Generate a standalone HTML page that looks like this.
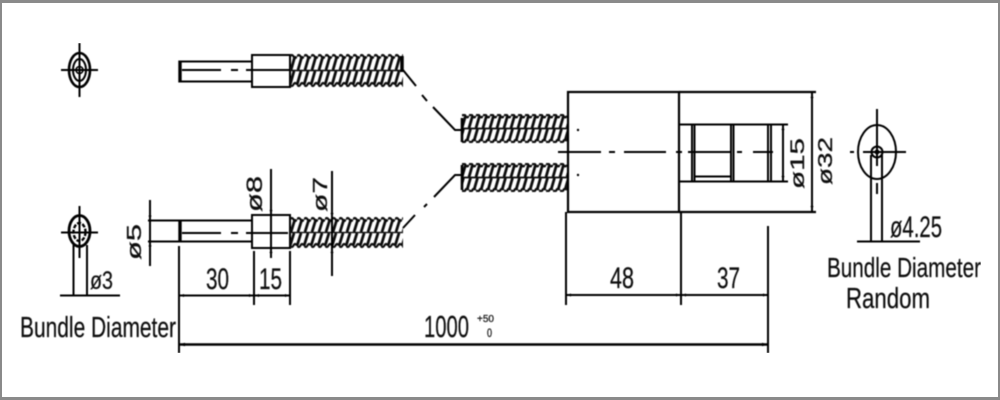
<!DOCTYPE html>
<html><head><meta charset="utf-8"><style>
html,body{margin:0;padding:0;background:#fff}
svg{display:block}
text{font-family:"Liberation Sans",sans-serif;fill:#111;stroke:#111;stroke-width:.25}
</style></head><body>
<svg width="1000" height="400" viewBox="0 0 1000 400" xmlns="http://www.w3.org/2000/svg">
<defs>
<filter id="b" x="0" y="0" width="100%" height="100%"><feGaussianBlur stdDeviation="0.5"/></filter>
<pattern id="sp1" patternUnits="userSpaceOnUse" x="290" y="54" width="7" height="33">
<path d="M0 2.500Q1.750 -0.500 3.500 2.500T7 2.500M0 30.500Q1.750 33.500 3.500 30.500T7 30.500" fill="none" stroke="#111" stroke-width="2.200"/>
<path d="M1 16L5 2M8 16L12 2M-6 16L-2 2M0 31L4 17M7 31L11 17M-7 31L-3 17" stroke="#111" stroke-width="2.800"/>
<path d="M0 16.500H7" stroke="#111" stroke-width="1.600"/>
</pattern>
<pattern id="sp2" patternUnits="userSpaceOnUse" x="462" y="114" width="7" height="29">
<path d="M0 2Q1.750 -0.600 3.500 2T7 2M0 27Q1.750 29.600 3.500 27T7 27" fill="none" stroke="#111" stroke-width="2.400"/>
<path d="M0 14L3.500 2M7 14L10.500 2M-7 14L-3.500 2M-2 27L1.500 15M5 27L8.500 15M12 27L15.500 15" stroke="#111" stroke-width="2.800"/>
<path d="M0 14.500H7" stroke="#111" stroke-width="1.800"/>
</pattern>
<pattern id="sp3" patternUnits="userSpaceOnUse" x="462" y="163" width="7" height="29">
<path d="M0 2Q1.750 -0.600 3.500 2T7 2M0 27Q1.750 29.600 3.500 27T7 27" fill="none" stroke="#111" stroke-width="2.400"/>
<path d="M0 14L3.500 2M7 14L10.500 2M-7 14L-3.500 2M-2 27L1.500 15M5 27L8.500 15M12 27L15.500 15" stroke="#111" stroke-width="2.800"/>
<path d="M0 14.500H7" stroke="#111" stroke-width="1.800"/>
</pattern>
<pattern id="sp4" patternUnits="userSpaceOnUse" x="290" y="217" width="7" height="31">
<path d="M0 2.500Q1.750 -0.500 3.500 2.500T7 2.500M0 28.500Q1.750 31.500 3.500 28.500T7 28.500" fill="none" stroke="#111" stroke-width="2.200"/>
<path d="M1 15L5 2M8 15L12 2M-6 15L-2 2M0 29L4 16M7 29L11 16M-7 29L-3 16" stroke="#111" stroke-width="2.800"/>
<path d="M0 15.500H7" stroke="#111" stroke-width="1.400"/>
</pattern>
</defs>
<rect width="1000" height="400" fill="#fff"/>
<g filter="url(#b)">
<g fill="none" stroke="#000" stroke-width="2">
<!-- top-left symbol -->
<ellipse cx="79.500" cy="70" rx="10.500" ry="17" stroke-width="2.600"/>
<ellipse cx="79.500" cy="70" rx="6.500" ry="11" stroke-width="2"/>
<circle cx="79.500" cy="70" r="3.500" stroke-width="1.600"/>
<path d="M61 70H98M79.500 43V97"/>
<!-- bottom-left symbol -->
<ellipse cx="79.500" cy="231" rx="10.500" ry="15.500" stroke-width="2.800"/>
<ellipse cx="79.500" cy="232" rx="6" ry="9" stroke-dasharray="4 1.500" stroke-width="2.400"/>
<path d="M61 232.500H98M79.500 206V258"/>
<path d="M73.500 245V295M87 245V295M60 295.500H120"/>
<!-- top fibre -->
<path d="M180 61.500H252M180 81.500H252"/>
<path d="M180 60.500V82.500" stroke-width="3.400"/>
<path d="M182 70H221M231 70H238M246 70H290"/>
<rect x="252" y="55" width="38" height="32"/>
<rect x="290" y="54" width="113" height="33" fill="url(#sp1)" stroke="none"/>
<path d="M402 56V72" stroke-width="3.500"/>
<!-- bottom fibre -->
<path d="M148 220.500H252M148 241.500H252"/>
<path d="M180 220V242" stroke-width="3.400"/>
<path d="M182 233H221M231 233H238M246 233H288"/>
<rect x="252" y="215" width="38" height="33"/>
<rect x="290" y="217" width="113" height="31" fill="url(#sp4)" stroke="none"/>
<!-- connectors -->
<path d="M403 70L416 86M422 95L427 101M433 107L455 130H462"/>
<path d="M403 228L415 215M424 207L427 204M434 197L455 175H462"/>
<rect x="462" y="114" width="106" height="29" fill="url(#sp2)" stroke="none"/>
<rect x="462" y="163" width="106" height="29" fill="url(#sp3)" stroke="none"/>
<path d="M462 118V142M462 165V190" stroke-width="2.600"/>
<!-- block -->
<rect x="568" y="92" width="111" height="120" stroke-width="2.200"/>
<path d="M558 152H601M609 152H615M624 152H666M676 152H682M688 152H730M737 152H742M753 152H773"/>
<path d="M679 92H816M679 212H816" stroke-width="2.200"/>
<path d="M679 124.500H788M679 181.500H788"/>
<path d="M692 124V182M694.500 124V182M731 124V182M733.500 124V182M768 124V182M771 124V182"/>
<path d="M695 176.500H731"/>
<path d="M783 125V181M812 93V211"/>
<!-- dims -->
<path d="M566 212V305M681 212V305M768 226V353"/>
<path d="M566 295H768"/>
<path d="M179 246V353M254 251V305M290 251V305"/>
<path d="M179 295.500H290"/>
<path d="M179 344.500H768" stroke-width="2.400"/>
<path d="M271 169V258M332 171V276M150 200V266"/>
<!-- right symbol -->
<ellipse cx="877" cy="152" rx="19" ry="27"/>
<circle cx="877" cy="152" r="5.500"/>
<path d="M863 152H906M850 152H854M877 109V166M877 183V194"/>
<path d="M871 155V241M882 155V241M857 241.500H920"/>
</g>
<g fill="#000">
<path d="M179 344.500l6 -1.800v3.600zM768 344.500l-6 -1.800v3.600zM179 295.500l5 -1.500v3zM254 295.500l-5 -1.500v3zM254 295.500l5 -1.500v3zM290 295.500l-5 -1.500v3zM566 295l5 -1.500v3zM681 295l-5 -1.500v3zM681 295l5 -1.500v3zM768 295l-5 -1.500v3z"/>
<path d="M150 220.500l-1.500 -5h3zM150 241.500l-1.500 5h3zM271 215l-1.500 -5h3zM271 248l-1.500 5h3zM332 218l-1.500 -5h3zM332 248l-1.500 5h3zM783 125l-1.500 5h3zM783 181l-1.500 -5h3zM812 93l-1.500 5h3zM812 211l-1.500 -5h3z"/>
<circle cx="578" cy="130" r="1.200"/><circle cx="578" cy="175" r="1.200"/>
<circle cx="877" cy="152" r="2.500"/>
</g>
<text x="206" y="289" font-size="30" textLength="23" lengthAdjust="spacingAndGlyphs">30</text>
<text x="259" y="289" font-size="30" textLength="23" lengthAdjust="spacingAndGlyphs">15</text>
<text x="610" y="288" font-size="30" textLength="24" lengthAdjust="spacingAndGlyphs">48</text>
<text x="717" y="288" font-size="30" textLength="23" lengthAdjust="spacingAndGlyphs">37</text>
<text x="424" y="337" font-size="31" textLength="45" lengthAdjust="spacingAndGlyphs">1000</text>
<text x="477" y="322" font-size="10" textLength="17" lengthAdjust="spacingAndGlyphs">+50</text>
<text x="487" y="337" font-size="12" textLength="5" lengthAdjust="spacingAndGlyphs">0</text>
<text x="90" y="289" font-size="25" textLength="23" lengthAdjust="spacingAndGlyphs">ø3</text>
<text x="20" y="337" font-size="29" textLength="156" lengthAdjust="spacingAndGlyphs">Bundle Diameter</text>
<text x="890" y="237" font-size="30" textLength="52" lengthAdjust="spacingAndGlyphs">ø4.25</text>
<text x="827" y="277" font-size="28" textLength="154" lengthAdjust="spacingAndGlyphs">Bundle Diameter</text>
<text x="846" y="308" font-size="29" textLength="84" lengthAdjust="spacingAndGlyphs">Random</text>
<text transform="translate(262,212) rotate(-90)" font-size="22" textLength="36" lengthAdjust="spacingAndGlyphs">ø8</text>
<text transform="translate(327,212) rotate(-90)" font-size="20" textLength="35" lengthAdjust="spacingAndGlyphs">ø7</text>
<text transform="translate(141,260) rotate(-90)" font-size="20" textLength="36" lengthAdjust="spacingAndGlyphs">ø5</text>
<text transform="translate(804,189) rotate(-90)" font-size="19" textLength="51" lengthAdjust="spacingAndGlyphs">ø15</text>
<text transform="translate(832,185) rotate(-90)" font-size="20" textLength="48" lengthAdjust="spacingAndGlyphs">ø32</text>
</g>
<!-- frame -->
<rect x="0" y="0" width="1000" height="3" fill="#8a8a8a"/>
<rect x="0" y="397" width="1000" height="3" fill="#8a8a8a"/>
<rect x="0" y="0" width="2" height="400" fill="#8a8a8a"/>
<rect x="998" y="0" width="2" height="400" fill="#8a8a8a"/>
</svg>
</body></html>
